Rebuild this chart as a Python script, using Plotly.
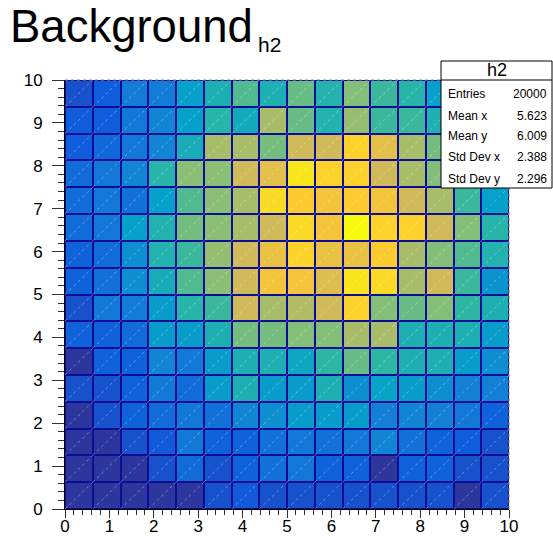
import numpy as np
import plotly.graph_objects as go

# ---- data (bin contents, rows from bottom y-bin to top y-bin) ----
x_edges_range = (0.0, 10.0)
y_edges_range = (0.0, 10.0)
n_bins_x = 16
n_bins_y = 16

counts = [
    [5, 5, 5, 5, 5, 16, 19, 16, 16, 16, 16, 16, 16, 16, 5, 16],
    [5, 5, 5, 16, 29, 16, 24, 32, 35, 24, 24, 5, 24, 24, 16, 16],
    [5, 5, 16, 19, 35, 24, 24, 32, 35, 32, 35, 43, 32, 24, 21, 16],
    [5, 16, 24, 29, 35, 32, 43, 48, 56, 56, 56, 40, 43, 40, 35, 24],
    [16, 16, 24, 37, 29, 56, 72, 56, 56, 72, 48, 61, 56, 48, 40, 40],
    [5, 24, 24, 43, 37, 56, 72, 72, 64, 80, 93, 80, 72, 72, 56, 48],
    [24, 24, 29, 56, 56, 72, 96, 96, 99, 99, 109, 109, 72, 72, 72, 56],
    [16, 37, 38, 56, 77, 83, 120, 109, 112, 120, 144, 99, 93, 99, 80, 72],
    [24, 32, 48, 69, 88, 101, 120, 136, 136, 125, 152, 147, 109, 120, 83, 51],
    [24, 29, 48, 75, 83, 104, 120, 131, 144, 131, 131, 141, 109, 99, 88, 75],
    [29, 35, 59, 75, 96, 101, 109, 120, 147, 136, 160, 144, 144, 120, 99, 77],
    [29, 35, 32, 59, 88, 101, 109, 147, 141, 136, 141, 136, 120, 109, 83, 59],
    [29, 35, 43, 77, 101, 101, 120, 128, 152, 144, 144, 120, 109, 99, 88, 72],
    [21, 27, 35, 43, 69, 109, 109, 96, 120, 120, 144, 128, 109, 96, 80, 64],
    [21, 21, 35, 43, 59, 77, 67, 109, 93, 75, 104, 83, 83, 72, 64, 56],
    [16, 21, 38, 38, 59, 72, 88, 72, 93, 75, 99, 83, 77, 59, 48, 40],
]
z_min, z_max = 0, 160

title_main = "Background"
title_sub = "h2"
stat_name = "h2"
stat_labels = ["Entries", "Mean x", "Mean y", "Std Dev x", "Std Dev y"]
stat_values = ["20000", "5.623", "6.009", "2.388", "2.296"]
tick_vals = list(range(0, 11))

# ---- ROOT kBird palette ----
bird_stops = [0.0, 0.125, 0.25, 0.375, 0.5, 0.625, 0.75, 0.875, 1.0]
bird_r = [0.2082, 0.0592, 0.0780, 0.0232, 0.1802, 0.5301, 0.8186, 0.9956, 0.9764]
bird_g = [0.1664, 0.3599, 0.5041, 0.6419, 0.7178, 0.7492, 0.7328, 0.7862, 0.9832]
bird_b = [0.5293, 0.8684, 0.8385, 0.7914, 0.6425, 0.4662, 0.3499, 0.1968, 0.0539]
colorscale = [
    [s, f"rgb({int(r*255)},{int(g*255)},{int(b*255)})"]
    for s, r, g, b in zip(bird_stops, bird_r, bird_g, bird_b)
]

x_edges = np.linspace(*x_edges_range, n_bins_x + 1)
y_edges = np.linspace(*y_edges_range, n_bins_y + 1)
x_centers = 0.5 * (x_edges[:-1] + x_edges[1:])
y_centers = 0.5 * (y_edges[:-1] + y_edges[1:])

W, H = 553, 536
ML, MR, MT, MB = 65, 44, 80, 27
PW, PH = W - ML - MR, H - MT - MB


def px(xpix):
    return (xpix - ML) / PW


def py(ypix):
    return (H - MB - ypix) / PH


fig = go.Figure()
fig.add_trace(go.Heatmap(
    x=x_centers, y=y_centers, z=counts,
    zmin=z_min, zmax=z_max, colorscale=colorscale,
    showscale=False, xgap=2, ygap=2, hoverinfo="skip",
))

# faint diagonal artefact lines inside each cell
dx_, dy_ = [], []
for i in range(n_bins_x):
    for j in range(n_bins_y):
        dx_ += [x_edges[i], x_edges[i + 1], None]
        dy_ += [y_edges[j], y_edges[j + 1], None]
fig.add_trace(go.Scatter(
    x=dx_, y=dy_, mode="lines", hoverinfo="skip", showlegend=False,
    line=dict(color="rgba(255,255,255,0.35)", width=1, dash="dot"),
))

font = "Liberation Sans, Arial, sans-serif"
axis_common = dict(
    range=[0, 10], tickvals=tick_vals, ticks="outside", automargin=False,
    showgrid=False, zeroline=False, showline=True, linecolor="black",
    linewidth=1, tickcolor="#333", tickfont=dict(family=font, size=17, color="black"),
    minor=dict(dtick=0.2, ticks="outside", tickcolor="#333", showgrid=False),
)
fig.update_layout(
    width=W, height=H,
    margin=dict(l=ML, r=MR, t=MT, b=MB),
    paper_bgcolor="white",
    plot_bgcolor="#0c0c94",
    showlegend=False,
    xaxis=dict(**axis_common, ticklen=8, tickwidth=1, ticklabelstandoff=-6),
    yaxis=dict(**axis_common, ticklen=12, tickwidth=1, ticklabelstandoff=6),
)
fig.update_xaxes(minor_ticklen=5)
fig.update_yaxes(minor_ticklen=6)

shapes = [
    dict(type="line", xref="paper", yref="paper", x0=0, x1=1, y0=1, y1=1,
         line=dict(color="#888", width=1, dash="dot")),
    dict(type="line", xref="paper", yref="paper", x0=1, x1=1, y0=0, y1=1,
         line=dict(color="#888", width=1, dash="dot")),
    # stats box
    dict(type="rect", xref="paper", yref="paper", x0=px(441), x1=px(552),
         y0=py(188), y1=py(61), fillcolor="white", line=dict(color="black", width=1)),
    dict(type="line", xref="paper", yref="paper", x0=px(441), x1=px(552),
         y0=py(80), y1=py(80), line=dict(color="black", width=1)),
]
fig.update_layout(shapes=shapes)

ann = [
    dict(text=title_main, xref="paper", yref="paper", x=px(8), y=py(26),
         xanchor="left", yanchor="middle", showarrow=False,
         font=dict(family=font, size=45.5, color="black")),
    dict(text=title_sub, xref="paper", yref="paper", x=px(256), y=py(45),
         xanchor="left", yanchor="middle", showarrow=False,
         font=dict(family=font, size=21, color="black")),
    dict(text=stat_name, xref="paper", yref="paper", x=px(497), y=py(70),
         xanchor="center", yanchor="middle", showarrow=False,
         font=dict(family=font, size=18, color="black")),
]
row_y = [94, 116, 136, 157, 179]
for lab, val, yy in zip(stat_labels, stat_values, row_y):
    ann.append(dict(text=lab, xref="paper", yref="paper", x=px(446), y=py(yy),
                    xanchor="left", yanchor="middle", showarrow=False,
                    font=dict(family=font, size=12, color="black")))
    ann.append(dict(text=val, xref="paper", yref="paper", x=px(549), y=py(yy),
                    xanchor="right", yanchor="middle", showarrow=False,
                    font=dict(family=font, size=12, color="black")))
fig.update_layout(annotations=ann)

fig.write_html("out.html", config={"displayModeBar": False},
               post_script="document.body.style.margin='0';")
